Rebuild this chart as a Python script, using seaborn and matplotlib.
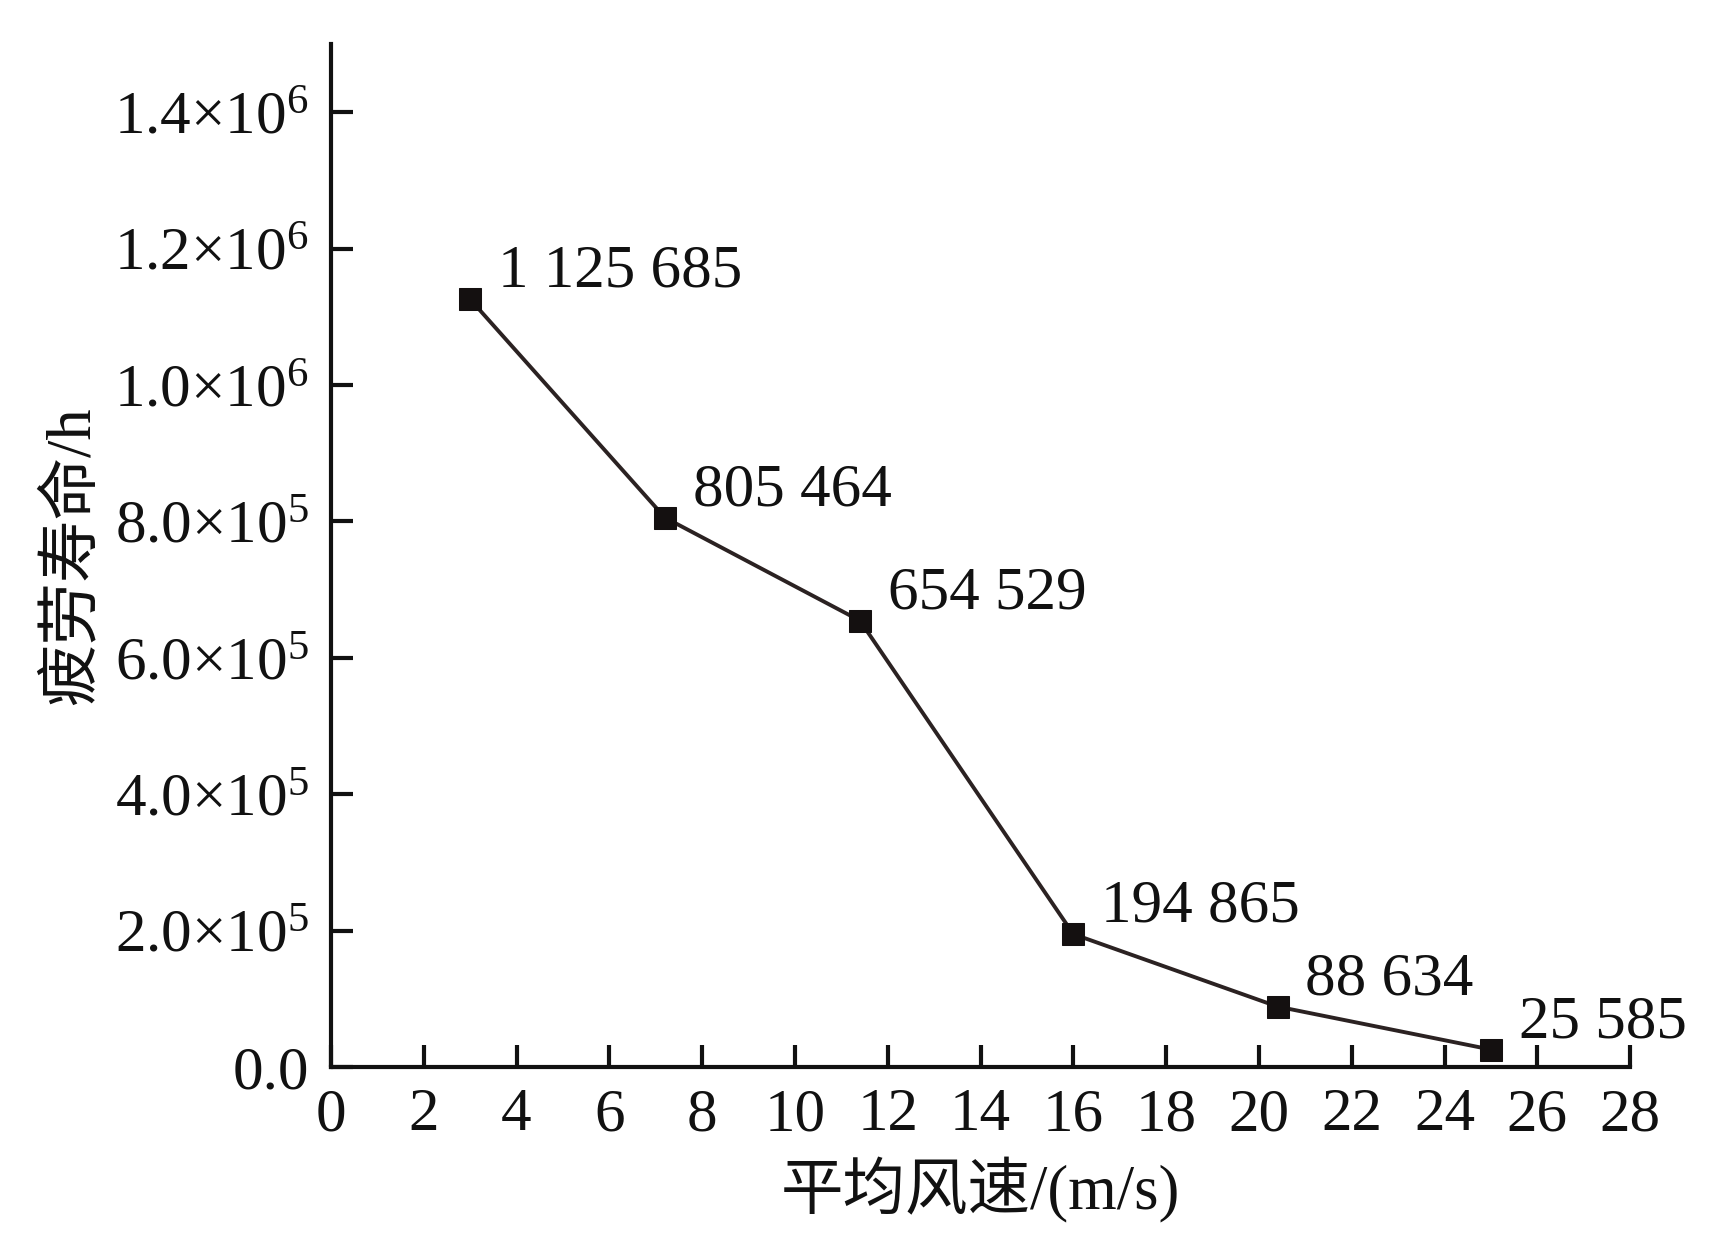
import seaborn as sns
import pandas as pd
import matplotlib.pyplot as plt
from matplotlib.ticker import FixedLocator, FuncFormatter

sns.set_theme(style="ticks")
plt.rcParams['font.family'] = ['Liberation Serif', 'Noto Sans CJK SC']
plt.rcParams['mathtext.fontset'] = 'custom'
plt.rcParams['mathtext.rm'] = 'Liberation Serif'
plt.rcParams['mathtext.it'] = 'Liberation Serif:italic'
plt.rcParams['axes.unicode_minus'] = False

# mean wind speed (m/s) and fatigue life (h)
wind_speed = [3.0, 7.2, 11.4, 16.0, 20.4, 25.0]
fatigue_life = [1125685, 805464, 654529, 194865, 88634, 25585]
point_labels = ["1 125 685", "805 464", "654 529", "194 865", "88 634", "25 585"]
x_ticks = list(range(0, 29, 2))
y_ticks = [0, 2e5, 4e5, 6e5, 8e5, 1.0e6, 1.2e6, 1.4e6]

df = pd.DataFrame({'speed': wind_speed, 'life': fatigue_life})

fig = plt.figure(figsize=(17.12, 12.54), dpi=100)
ax = fig.add_axes([0.1933, 0.1491, 0.7589, 0.8158])

sns.lineplot(data=df, x='speed', y='life', ax=ax, color='#2b2222',
             linewidth=2.8, marker='s', markersize=16,
             markerfacecolor='#141010', markeredgecolor='#141010')

for xv, yv, lab in zip(wind_speed, fatigue_life, point_labels):
    ax.annotate(lab, (xv, yv), xytext=(20, 9), textcoords='offset points',
                ha='left', va='baseline', fontsize=44, color='#111111')

ax.set_xlim(0, 28)
ax.set_ylim(0, 1.5e6)
ax.xaxis.set_major_locator(FixedLocator(x_ticks))
ax.yaxis.set_major_locator(FixedLocator(y_ticks))


def fmt_y(v, pos):
    if v == 0:
        return '0.0'
    e = 6 if v >= 1e6 else 5
    return '%.1f×10$^{%d}$' % (v / 10 ** e, e)


ax.yaxis.set_major_formatter(FuncFormatter(fmt_y))
ax.xaxis.set_major_formatter(FuncFormatter(lambda v, p: '%d' % v))

for side in ['top', 'right']:
    ax.spines[side].set_visible(False)
for side in ['left', 'bottom']:
    ax.spines[side].set_linewidth(3)
    ax.spines[side].set_color('#111111')

ax.tick_params(axis='both', direction='in', length=16, width=3,
               colors='#111111', labelsize=44)
ax.tick_params(axis='y', pad=16)
ax.tick_params(axis='x', pad=15)

ax.set_xlabel('平均风速/(m/s)', fontsize=45, labelpad=10, color='#111111')
ax.set_ylabel('疲劳寿命/h', fontsize=45, labelpad=8, color='#111111')

fig.savefig('out.png', dpi=100, facecolor='white')
